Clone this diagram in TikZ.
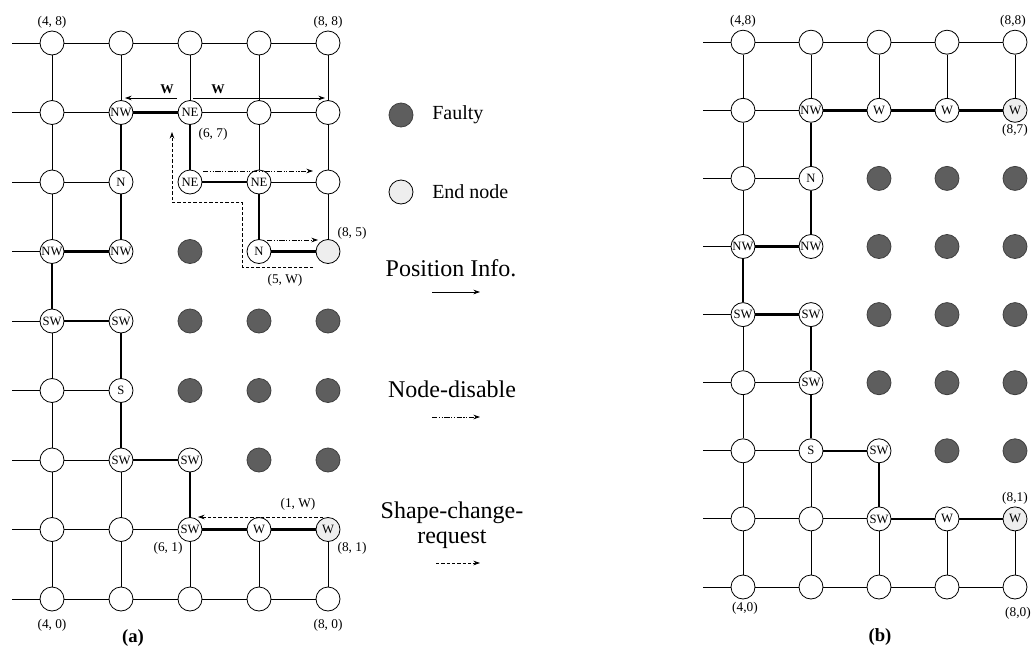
\documentclass[tikz,border=0pt]{standalone}
\usepackage{fontspec}
\setmainfont{Liberation Serif}
\usetikzlibrary{arrows.meta,positioning}
\definecolor{pfFault}{HTML}{5E5E5E}
\definecolor{pfEnd}{HTML}{EEEEEE}

\begin{document}
\begin{tikzpicture}[x=0.75pt,y=-0.75pt,
  pe/.style={circle,draw=black,line width=0.6pt,fill=white,minimum size=18pt,inner sep=0pt,
    font=\fontsize{9.5}{10}\selectfont},
  faulty/.style={pe,draw=black!75,fill=pfFault},
  endpe/.style={pe,fill=pfEnd},
  ln/.style={line width=0.65pt},
  bd/.style={line width=1.8pt},
  cl/.style={font=\fontsize{10}{11}\selectfont,inner sep=0pt},
  lg/.style={font=\fontsize{15}{16}\selectfont,anchor=west,inner sep=0pt},
  lgb/.style={font=\fontsize{18}{19}\selectfont,align=center,inner sep=0pt},
  posarr/.style={-{Stealth[length=5pt,width=3.5pt]},line width=0.6pt},
  disarr/.style={posarr,dash pattern=on 4pt off 1.2pt on 0.8pt off 1.2pt on 0.8pt off 1.2pt},
  scrarr/.style={posarr,dash pattern=on 2.5pt off 1.5pt},
  capt/.style={font=\fontsize{14}{15}\selectfont\bfseries,inner sep=0pt}]
\useasboundingbox (0,0) rectangle (1033,650);

% ---- grid (a)
\foreach \c/\r in {4/8,5/8,6/8,7/8,8/8,4/7,7/7,8/7,4/6,8/6,4/3,4/2,4/1,5/1,4/0,5/0,6/0,7/0,8/0}
  \node[pe] (a\c\r) at ({52+69*(\c-4)},{599-69.5*\r}) {};
\foreach \c/\r/\t in {5/7/NW,6/7/NE,5/6/N,6/6/NE,7/6/NE,4/5/NW,5/5/NW,7/5/N,4/4/SW,5/4/SW,
    5/3/S,5/2/SW,6/2/SW,6/1/SW,7/1/W}
  \node[pe] (a\c\r) at ({52+69*(\c-4)},{599-69.5*\r}) {\makebox[0pt]{\t}};
\foreach \c/\r/\t in {8/5/{},8/1/W}
  \node[endpe] (a\c\r) at ({52+69*(\c-4)},{599-69.5*\r}) {\makebox[0pt]{\t}};
\foreach \c/\r in {6/5,6/4,7/4,8/4,6/3,7/3,8/3,7/2,8/2}
  \node[faulty] (a\c\r) at ({52+69*(\c-4)},{599-69.5*\r}) {};

\foreach \r in {0,...,8} {
  \coordinate (as\r) at (12,{599-69.5*\r});
  \draw[ln] (as\r) -- (a4\r);
}
\foreach \u/\v in {a48/a58,a58/a68,a68/a78,a78/a88,a47/a57,a67/a77,a77/a87,a46/a56,a76/a86,
    a43/a53,a42/a52,a41/a51,a51/a61,a40/a50,a50/a60,a60/a70,a70/a80,
    a48/a47,a47/a46,a46/a45,a44/a43,a43/a42,a42/a41,a41/a40,a58/a57,a52/a51,a51/a50,
    a68/a67,a61/a60,a78/a77,a77/a76,a71/a70,a88/a87,a87/a86,a86/a85,a81/a80}
  \draw[ln] (\u) -- (\v);
\foreach \u/\v in {a57/a67,a67/a66,a66/a76,a76/a75,a75/a85,a57/a56,a56/a55,a45/a55,a45/a44,
    a44/a54,a54/a53,a53/a52,a52/a62,a62/a61,a61/a71,a71/a81}
  \draw[bd] (\u) -- (\v);

% messages in (a)
\coordinate (wl0) at (177,98);  \coordinate (wl1) at (125,98);
\coordinate (wr0) at (193,98);  \coordinate (wr1) at (325,98);
\draw[posarr] (wl0) -- (wl1);
\draw[posarr] (wr0) -- (wr1);
\node[cl,font=\fontsize{10}{11}\selectfont\bfseries] (wlt) at (167,89) {W};
\node[cl,font=\fontsize{10}{11}\selectfont\bfseries] (wrt) at (218,89) {W};

\coordinate (nd0) at (203,171); \coordinate (nd1) at (313,171);
\coordinate (nd2) at (267,240); \coordinate (nd3) at (318,240);
\draw[disarr] (nd0) -- (nd1);
\draw[disarr] (nd2) -- (nd3);

\coordinate (sc0) at (313,267); \coordinate (sc1) at (242,267);
\coordinate (sc2) at (242,202); \coordinate (sc3) at (172,202);
\coordinate (sc4) at (172,132);
\draw[scrarr] (sc0) -- (sc1) -- (sc2) -- (sc3) -- (sc4);
\coordinate (sc5) at (323,517); \coordinate (sc6) at (198,517);
\draw[scrarr] (sc5) -- (sc6);

\node[cl] (la48) at (52,22) {(4, 8)};
\node[cl] (la88) at (328,22) {(8, 8)};
\node[cl] (la67) at (213,134) {(6, 7)};
\node[cl] (la85) at (352,233) {(8, 5)};
\node[cl] (la5w) at (285,280) {(5, W)};
\node[cl] (la1w) at (298,504) {(1, W)};
\node[cl] (la61) at (168,548) {(6, 1)};
\node[cl] (la81) at (352,548) {(8, 1)};
\node[cl] (la40) at (52,625) {(4, 0)};
\node[cl] (la80) at (328,625) {(8, 0)};
\node[capt] (capa) at (133,638) {(a)};

% ---- legend
\node[faulty] (lgf) at (401,115) {};
\node[lg] (lgft) at (432,115) {Faulty};
\node[endpe] (lge) at (401,192) {};
\node[lg] (lget) at (432,192) {End node};
\node[lgb] (lgp) at (451,268) {Position Info.};
\coordinate (lp0) at (432,292); \coordinate (lp1) at (480,292);
\draw[posarr] (lp0) -- (lp1);
\node[lgb] (lgd) at (452,389) {Node-disable};
\coordinate (ld0) at (432,417); \coordinate (ld1) at (480,417);
\draw[disarr] (ld0) -- (ld1);
\node[lgb] (lgs) at (452,525) {Shape-change-\\request};
\coordinate (ls0) at (436,563); \coordinate (ls1) at (480,563);
\draw[scrarr] (ls0) -- (ls1);

% ---- grid (b)
\foreach \c/\r in {4/8,5/8,6/8,7/8,8/8,4/7,4/6,4/3,4/2,4/1,5/1,4/0,5/0,6/0,7/0,8/0}
  \node[pe] (b\c\r) at ({743+68*(\c-4)},{587-68.1*\r}) {};
\foreach \c/\r/\t in {5/7/NW,6/7/W,7/7/W,5/6/N,4/5/NW,5/5/NW,4/4/SW,5/4/SW,5/3/SW,5/2/S,
    6/2/SW,6/1/SW,7/1/W}
  \node[pe] (b\c\r) at ({743+68*(\c-4)},{587-68.1*\r}) {\makebox[0pt]{\t}};
\foreach \c/\r/\t in {8/7/W,8/1/W}
  \node[endpe] (b\c\r) at ({743+68*(\c-4)},{587-68.1*\r}) {\makebox[0pt]{\t}};
\foreach \c/\r in {6/6,7/6,8/6,6/5,7/5,8/5,6/4,7/4,8/4,6/3,7/3,8/3,7/2,8/2}
  \node[faulty] (b\c\r) at ({743+68*(\c-4)},{587-68.1*\r}) {};

\foreach \r in {0,...,8} {
  \coordinate (bs\r) at (703,{587-68.1*\r});
  \draw[ln] (bs\r) -- (b4\r);
}
\foreach \u/\v in {b48/b58,b58/b68,b68/b78,b78/b88,b47/b57,b46/b56,b43/b53,b42/b52,b41/b51,
    b51/b61,b40/b50,b50/b60,b60/b70,b70/b80,
    b48/b47,b47/b46,b46/b45,b44/b43,b43/b42,b42/b41,b41/b40,b58/b57,b52/b51,b51/b50,
    b68/b67,b61/b60,b78/b77,b71/b70,b88/b87,b81/b80}
  \draw[ln] (\u) -- (\v);
\foreach \u/\v in {b57/b67,b67/b77,b77/b87,b57/b56,b56/b55,b45/b55,b45/b44,b44/b54,b54/b53,
    b53/b52,b52/b62,b62/b61,b61/b71,b71/b81}
  \draw[bd] (\u) -- (\v);

\node[cl] (lb48) at (743,21) {(4,8)};
\node[cl] (lb88) at (1013,21) {(8,8)};
\node[cl] (lb87) at (1015,130) {(8,7)};
\node[cl] (lb81) at (1015,498) {(8,1)};
\node[cl] (lb40) at (745,608) {(4,0)};
\node[cl] (lb80) at (1018,613) {(8,0)};
\node[capt] (capb) at (880,637) {(b)};
\end{tikzpicture}
\end{document}
